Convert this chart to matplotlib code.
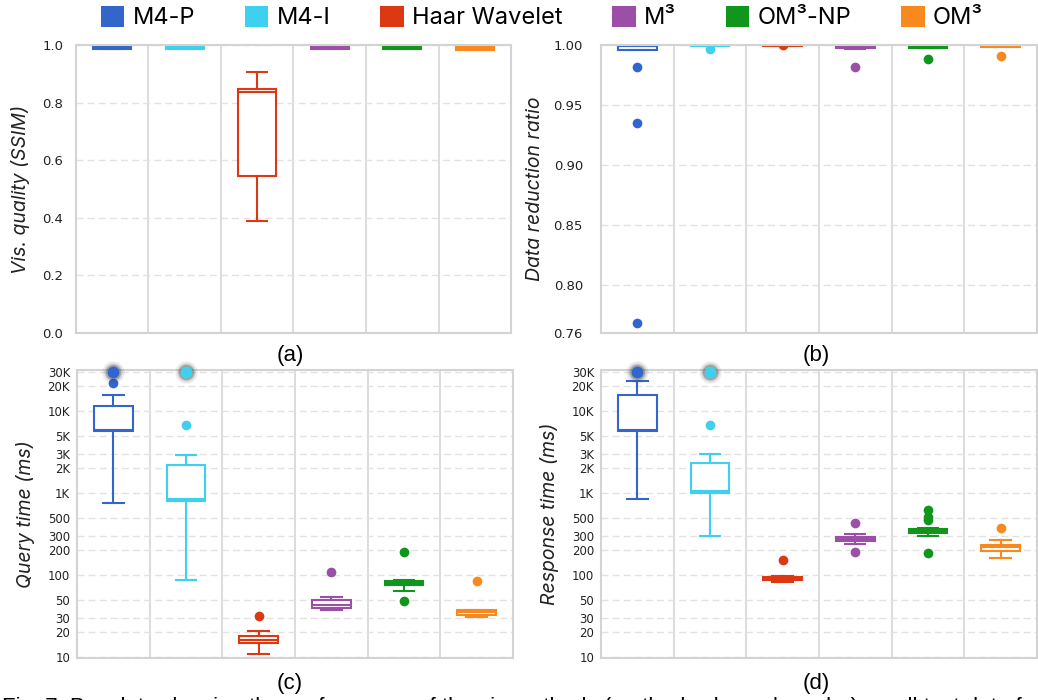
import matplotlib
matplotlib.use("Agg")
import matplotlib.pyplot as plt
from matplotlib.patches import Patch
from matplotlib.ticker import NullLocator

methods = ["M4-P", "M4-I", "Haar Wavelet", "M³", "OM³-NP", "OM³"]
colors = ["#3366cc", "#3dd0ef", "#dc3912", "#9b4fa6", "#10961a", "#f7891e"]

# (a) visual quality (SSIM)
ssim_lo = [0.986, 0.986, 0.389, 0.986, 0.986, 0.982]
ssim_q1 = [0.987, 0.987, 0.546, 0.987, 0.987, 0.983]
ssim_med = [0.992, 0.992, 0.838, 0.992, 0.992, 0.988]
ssim_q3 = [0.997, 0.997, 0.846, 0.997, 0.997, 0.993]
ssim_hi = [0.998, 0.998, 0.905, 0.998, 0.998, 0.994]
ssim_out = [[], [], [], [], [], []]

# (b) data reduction ratio
drr_lo = [0.9958, 0.9990, 0.9992, 0.9968, 0.9975, 0.9984]
drr_q1 = [0.9958, 0.9993, 0.9994, 0.9972, 0.9977, 0.9986]
drr_med = [0.9990, 0.9996, 0.9998, 0.9985, 0.9984, 0.9991]
drr_q3 = [0.9995, 0.9998, 1.0, 0.9998, 0.9992, 0.9996]
drr_hi = [1.0, 1.0, 1.0, 1.0, 0.9998, 0.9999]
drr_out = [[0.982, 0.935, 0.768], [0.9964], [0.99995], [0.9819], [0.988], [0.9911]]

# (c) query time (ms)
qt_lo = [757, 87, 10.8, 37.6, 64, 30.6]
qt_q1 = [5700, 792, 14.8, 39.7, 75.7, 32.4]
qt_med = [5900, 837, 15.9, 42.5, 80, 34.9]
qt_q3 = [11400, 2190, 17.8, 49.7, 85.3, 36.9]
qt_hi = [15500, 2870, 20.9, 53.6, 86.9, 37.6]
qt_out = [[21900], [6640], [31.8], [107.7], [192, 47.4], [83.8]]
qt_timeout = [[30000], [30000], [], [], [], []]

# (d) response time (ms)
rt_lo = [845, 297, 81.3, 238, 297, 163]
rt_q1 = [5740, 990, 86, 258, 324, 193]
rt_med = [5900, 1040, 90, 276, 346, 216]
rt_q3 = [15700, 2290, 94.6, 292, 366, 233]
rt_hi = [22900, 3000, 96.4, 312, 369, 268]
rt_out = [[], [6800], [154], [433, 191], [614, 504, 467, 184], [373]]
rt_timeout = [[30000], [30000], [], [], [], []]

log_ticks = [10, 20, 30, 50, 100, 200, 300, 500, 1000, 2000, 3000, 5000, 10000, 20000, 30000]
log_labels = ["10", "20", "30", "50", "100", "200", "300", "500",
              "1K", "2K", "3K", "5K", "10K", "20K", "30K"]

ssim_ticks = [0.0, 0.2, 0.4, 0.6, 0.8, 1.0]
drr_ticks = [0.76, 0.80, 0.85, 0.90, 0.95, 1.00]

fig = plt.figure(figsize=(10.38, 7.0), dpi=100)


def draw_panel(ax, lo, q1, med, q3, hi, out, timeout=None):
    for i, c in enumerate(colors):
        stats = [{"whislo": lo[i], "q1": q1[i], "med": med[i], "q3": q3[i],
                  "whishi": hi[i], "fliers": out[i]}]
        ax.bxp(stats, positions=[i + 1], widths=0.53, capwidths=0.28,
               patch_artist=True, showfliers=True,
               boxprops=dict(facecolor="white", edgecolor=c, linewidth=1.5),
               whiskerprops=dict(color=c, linewidth=1.5),
               capprops=dict(color=c, linewidth=1.5),
               medianprops=dict(color=c, linewidth=1.5),
               flierprops=dict(marker="o", markerfacecolor=c, markeredgecolor="none",
                               markersize=7))
        if timeout and timeout[i]:
            # points beyond the limit drawn with a gray halo
            for v in timeout[i]:
                for ms, a in [(16, 0.10), (13, 0.18), (11, 0.3)]:
                    ax.plot(i + 1, v, "o", color="#444444", markersize=ms, alpha=a,
                            markeredgecolor="none", clip_on=False, zorder=4)
                ax.plot(i + 1, v, "o", color=c, markersize=8.5,
                        markeredgecolor="none", clip_on=False, zorder=5)
    ax.set_xlim(0.5, 6.5)
    ax.set_xticks([])
    for x in [1.5, 2.5, 3.5, 4.5, 5.5]:
        ax.axvline(x, color="#d6d6d6", linewidth=1.2, zorder=0)
    ax.grid(axis="y", linestyle=(0, (5, 3)), color="#e2e2e2", linewidth=1, zorder=0)
    ax.set_axisbelow(True)
    for s in ax.spines.values():
        s.set_color("#d3d3d3")
        s.set_linewidth(1.5)
    ax.tick_params(axis="y", length=0, colors="#222222")


# (a)
ax_a = fig.add_axes([0.0732, 0.5243, 0.4191, 0.4114])
draw_panel(ax_a, ssim_lo, ssim_q1, ssim_med, ssim_q3, ssim_hi, ssim_out)
ax_a.set_ylim(0, 1.0)
ax_a.set_yticks(ssim_ticks)
ax_a.set_yticklabels([f"{t:.1f}" for t in ssim_ticks], fontsize=9.5)
ax_a.tick_params(axis="y", pad=9)
ax_a.set_ylabel("Vis. quality (SSIM)", fontsize=14, style="italic", family="Inter",
                color="#222222", labelpad=9)

# (b)
ax_b = fig.add_axes([0.5790, 0.5243, 0.4200, 0.4114])
draw_panel(ax_b, drr_lo, drr_q1, drr_med, drr_q3, drr_hi, drr_out)
ax_b.set_ylim(0.76, 1.0)
ax_b.set_yticks(drr_ticks)
ax_b.set_yticklabels([f"{t:.2f}" for t in drr_ticks], fontsize=9.5)
ax_b.tick_params(axis="y", pad=13)
ax_b.set_ylabel("Data reduction ratio", fontsize=14, style="italic", family="Inter",
                color="#222222", labelpad=7)

# (c)
ax_c = fig.add_axes([0.0742, 0.06, 0.4200, 0.4114])
ax_c.set_yscale("log")
draw_panel(ax_c, qt_lo, qt_q1, qt_med, qt_q3, qt_hi, qt_out, qt_timeout)
ax_c.set_ylim(9.7, 31500)
ax_c.set_yticks(log_ticks)
ax_c.set_yticklabels(log_labels, fontsize=8.5)
ax_c.yaxis.set_minor_locator(NullLocator())
ax_c.tick_params(axis="y", pad=5)
ax_c.set_ylabel("Query time (ms)", fontsize=14, style="italic", family="Inter",
                color="#222222", labelpad=9)

# (d)
ax_d = fig.add_axes([0.5790, 0.06, 0.4200, 0.4114])
ax_d.set_yscale("log")
draw_panel(ax_d, rt_lo, rt_q1, rt_med, rt_q3, rt_hi, rt_out, rt_timeout)
ax_d.set_ylim(9.7, 31500)
ax_d.set_yticks(log_ticks)
ax_d.set_yticklabels(log_labels, fontsize=8.5)
ax_d.yaxis.set_minor_locator(NullLocator())
ax_d.tick_params(axis="y", pad=5)
ax_d.set_ylabel("Response time (ms)", fontsize=14, style="italic", family="Inter",
                color="#222222", labelpad=9)

# sub-figure letters
for x, y, s in [(290, 355, "(a)"), (816, 355, "(b)"), (290, 683, "(c)"), (816, 683, "(d)")]:
    fig.text(x / 1038, 1 - y / 700, s, fontsize=16, family="Liberation Sans",
             ha="center", va="center")

# legend on top
handles = [Patch(facecolor=c, edgecolor="none") for c in colors]
fig.legend(handles, methods, loc="center", bbox_to_anchor=(0.522, 0.975), ncol=6,
           frameon=False, prop={"family": "Inter", "size": 17},
           handlelength=1.0, handleheight=1.0, handletextpad=0.35,
           columnspacing=2.1, borderaxespad=0)

# caption cut off at the bottom, as in the source figure
fig.text(0.002, -0.019, "Fig. 7: Boxplots showing the performance of the six methods "
         "(methods shown by color) on all test data f", fontsize=16,
         family="Liberation Sans", ha="left", va="baseline")

plt.savefig("out.png", dpi=100)
